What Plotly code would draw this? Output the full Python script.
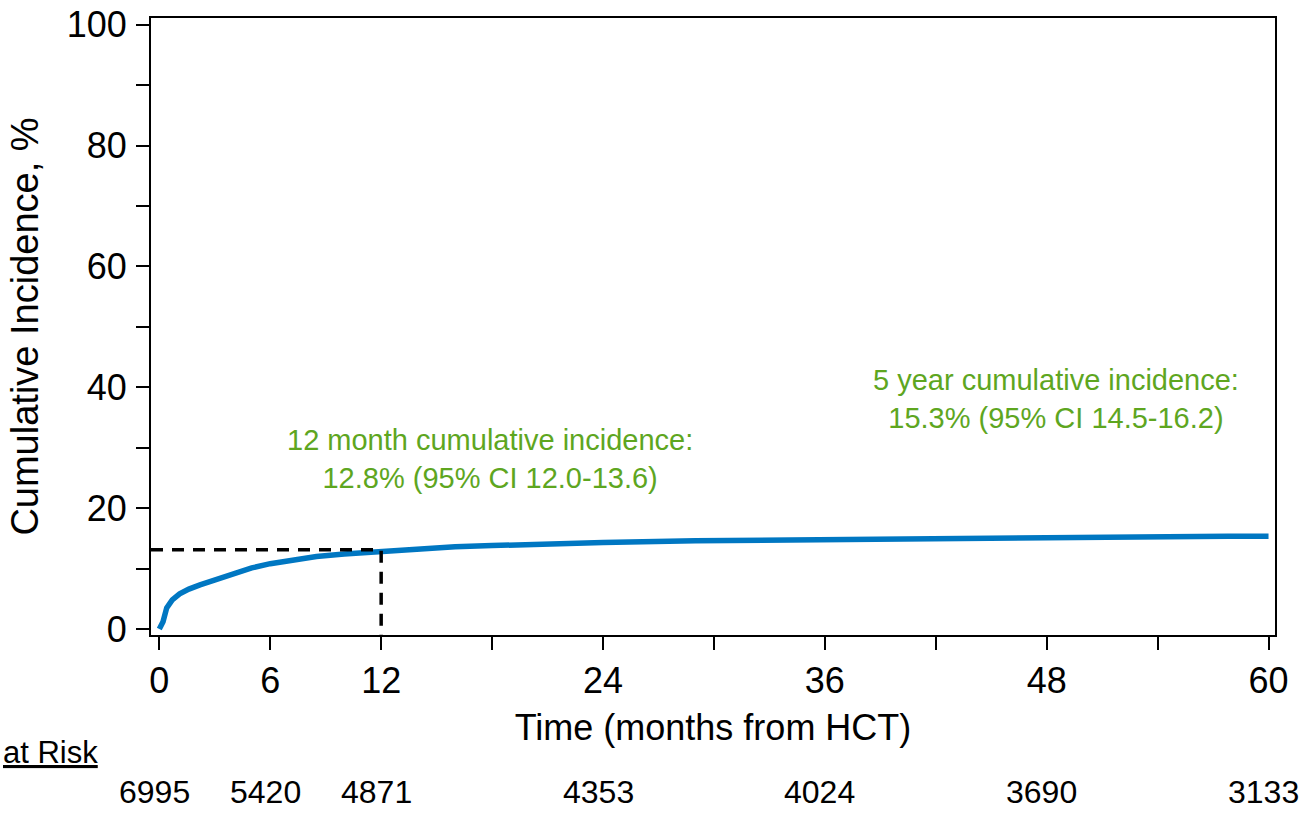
import plotly.graph_objects as go

# ---- data ----
months = [0, 0.2, 0.4, 0.7, 1.1, 1.6, 2.2, 3.0, 4.0, 5.0, 6.0, 7.0, 8.5, 10.0, 12.0,
          14.0, 16.0, 18.0, 21.0, 24.0, 29.0, 35.0, 41.0, 47.0, 52.5, 57.8, 60.0]
cum_inc = [0, 1.2, 3.5, 4.8, 5.8, 6.6, 7.3, 8.1, 9.1, 10.1, 10.8, 11.3, 12.0, 12.4, 12.85,
           13.3, 13.6, 13.8, 14.1, 14.3, 14.6, 14.8, 15.0, 15.1, 15.2, 15.35, 15.35]

ref_month = 12
ref_value = 13.1

risk_months = [0, 6, 12, 24, 36, 48, 60]
risk_counts = ["6995", "5420", "4871", "4353", "4024", "3690", "3133"]

x_ticks = [0, 6, 12, 18, 24, 30, 36, 42, 48, 54, 60]
x_ticktext = ["0", "6", "12", "", "24", "", "36", "", "48", "", "60"]
y_ticks = [0, 10, 20, 30, 40, 50, 60, 70, 80, 90, 100]
y_ticktext = ["0", "", "20", "", "40", "", "60", "", "80", "", "100"]

note_12m = "12 month cumulative incidence:<br>12.8% (95% CI 12.0-13.6)"
note_5y = "5 year cumulative incidence:<br>15.3% (95% CI 14.5-16.2)"

X_RANGE = [-0.45, 60.35]
Y_RANGE = [-1.0, 101.1]

BLUE = "#0077C2"
GREEN = "#5EA61F"
FONT = "Arial, Liberation Sans, sans-serif"

fig = go.Figure()
fig.add_trace(go.Scatter(x=months, y=cum_inc, mode="lines",
                         line=dict(color=BLUE, width=5.5), showlegend=False,
                         hoverinfo="skip"))
fig.add_trace(go.Scatter(x=[X_RANGE[0], ref_month, ref_month],
                         y=[ref_value, ref_value, Y_RANGE[0]], mode="lines",
                         line=dict(color="black", width=3.5, dash="12px,9px"),
                         showlegend=False, hoverinfo="skip"))

axis_common = dict(showline=True, linewidth=2, linecolor="black", mirror=True,
                   ticks="outside", ticklen=13, tickwidth=2, tickcolor="black",
                   showgrid=False, zeroline=False, automargin=False,
                   ticklabeloverflow="allow",
                   tickfont=dict(family=FONT, size=36, color="black"))

fig.update_xaxes(range=X_RANGE, tickmode="array", tickvals=x_ticks, ticktext=x_ticktext,
                 title=dict(text="Time (months from HCT)",
                            font=dict(family=FONT, size=36, color="black"), standoff=15),
                 **axis_common)
fig.update_yaxes(range=Y_RANGE, tickmode="array", tickvals=y_ticks, ticktext=y_ticktext,
                 ticklabelstandoff=2,
                 title=dict(text="Cumulative Incidence, %",
                            font=dict(family=FONT, size=38, color="black"), standoff=16),
                 **axis_common)

annotations = [
    dict(x=17.9, y=28.1, xref="x", yref="y", text=note_12m, showarrow=False,
         font=dict(family=FONT, size=29, color=GREEN), align="center"),
    dict(x=48.5, y=38.0, xref="x", yref="y", text=note_5y, showarrow=False,
         font=dict(family=FONT, size=29, color=GREEN), align="center"),
    dict(x=-0.0454, y=-0.19, xref="paper", yref="paper", text="<u>at Risk</u>",
         showarrow=False, xanchor="right", yanchor="middle",
         font=dict(family=FONT, size=31, color="black")),
]
for m, c in zip(risk_months, risk_counts):
    annotations.append(dict(x=m, y=-0.2545, xref="x", yref="paper", text=c,
                            showarrow=False, xanchor="center", yanchor="middle", xshift=-5,
                            font=dict(family=FONT, size=32, color="black")))

fig.update_layout(width=1312, height=817, autosize=False,
                  margin=dict(l=151, r=37, t=18, b=182),
                  plot_bgcolor="white", paper_bgcolor="white",
                  annotations=annotations, showlegend=False)

# remove the page's default body margin so the figure fills the window exactly
fig.write_html("out.html", config={"displayModeBar": False},
               post_script="document.body.style.margin='0';document.body.style.overflow='hidden';")
